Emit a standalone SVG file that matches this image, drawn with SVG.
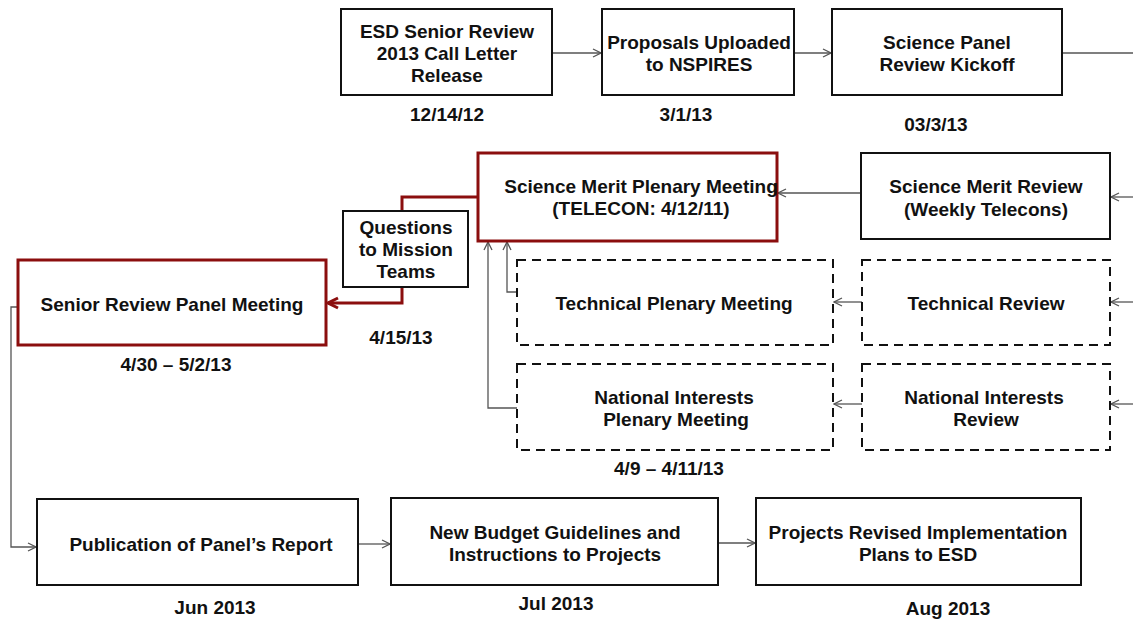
<svg xmlns="http://www.w3.org/2000/svg" width="1133" height="620" viewBox="0 0 1133 620">
  <style>
    text { font-family: "Liberation Sans", Arial, sans-serif; font-weight: bold; font-size: 19px; fill: #111; text-anchor: middle; }
    .box { fill: #fff; stroke: #111; stroke-width: 2; }
    .red { fill: #fff; stroke: #8b0e0e; stroke-width: 3; }
    .dash { fill: #fff; stroke: #111; stroke-width: 2; stroke-dasharray: 9 6; }
    .conn { fill: none; stroke: #555; stroke-width: 1.3; }
    .rconn { fill: none; stroke: #8b0e0e; stroke-width: 3; }
  </style>
  <defs>
    <marker id="arr" viewBox="0 0 10 10" refX="9" refY="5" markerWidth="10" markerHeight="10" markerUnits="userSpaceOnUse" orient="auto">
      <path d="M1,1 L9,5 L1,9" fill="none" stroke="#555" stroke-width="1.3"/>
    </marker>
    <marker id="rarr" viewBox="0 0 14 14" refX="12" refY="7" markerWidth="14" markerHeight="14" markerUnits="userSpaceOnUse" orient="auto">
      <path d="M2,2 L12,7 L2,12" fill="none" stroke="#8b0e0e" stroke-width="3"/>
    </marker>
  </defs>

  <!-- connectors -->
  <g id="connectors">
    <line class="conn" x1="552" y1="53" x2="601" y2="53" marker-end="url(#arr)"/>
    <line class="conn" x1="794" y1="53" x2="831" y2="53" marker-end="url(#arr)"/>
    <line class="conn" x1="1062" y1="53" x2="1133" y2="53"/>
    <line class="conn" x1="1133" y1="197" x2="1111" y2="197" marker-end="url(#arr)"/>
    <line class="conn" x1="861" y1="193" x2="778" y2="193" marker-end="url(#arr)"/>
    <line class="conn" x1="1133" y1="302" x2="1111" y2="302" marker-end="url(#arr)"/>
    <line class="conn" x1="862" y1="302" x2="834" y2="302" marker-end="url(#arr)"/>
    <line class="conn" x1="1133" y1="404" x2="1111" y2="404" marker-end="url(#arr)"/>
    <line class="conn" x1="862" y1="404" x2="834" y2="404" marker-end="url(#arr)"/>
    <polyline class="conn" points="517,292 507,292 507,242" marker-end="url(#arr)"/>
    <polyline class="conn" points="517,408 488,408 488,242" marker-end="url(#arr)"/>
    <polyline class="rconn" points="478,197 402,197 402,211"/>
    <polyline class="rconn" points="402,287 402,303 328,303" marker-end="url(#rarr)"/>
    <polyline class="conn" points="18,307 11,307 11,547 36,547" marker-end="url(#arr)"/>
    <line class="conn" x1="358" y1="544" x2="390" y2="544" marker-end="url(#arr)"/>
    <line class="conn" x1="718" y1="543" x2="755" y2="543" marker-end="url(#arr)"/>
  </g>

  <!-- top row -->
  <g id="call-letter">
    <rect class="box" x="341" y="9" width="211" height="86"/>
    <text x="447" y="38">ESD Senior Review</text>
    <text x="447" y="60">2013 Call Letter</text>
    <text x="447" y="82">Release</text>
    <text x="447" y="121">12/14/12</text>
  </g>
  <g id="proposals">
    <rect class="box" x="602" y="9" width="192" height="86"/>
    <text x="699" y="49">Proposals Uploaded</text>
    <text x="699" y="71">to NSPIRES</text>
    <text x="686" y="121">3/1/13</text>
  </g>
  <g id="kickoff">
    <rect class="box" x="832" y="9" width="230" height="86"/>
    <text x="947" y="49">Science Panel</text>
    <text x="947" y="71">Review Kickoff</text>
    <text x="936" y="131">03/3/13</text>
  </g>

  <!-- middle rows -->
  <g id="merit-plenary">
    <rect class="red" x="478" y="153" width="299" height="88"/>
    <text x="641" y="193">Science Merit Plenary Meeting</text>
    <text x="641" y="215">(TELECON: 4/12/11)</text>
  </g>
  <g id="merit-review">
    <rect class="box" x="861" y="153" width="249" height="86"/>
    <text x="986" y="193">Science Merit Review</text>
    <text x="986" y="216">(Weekly Telecons)</text>
  </g>
  <g id="questions">
    <rect class="box" x="343" y="211" width="125" height="76"/>
    <text x="406" y="234">Questions</text>
    <text x="406" y="256">to Mission</text>
    <text x="406" y="278">Teams</text>
    <text x="401" y="344">4/15/13</text>
  </g>
  <g id="senior-panel">
    <rect class="red" x="18" y="260" width="308" height="85"/>
    <text x="172" y="311">Senior Review Panel Meeting</text>
    <text x="176" y="371">4/30 – 5/2/13</text>
  </g>
  <g id="tech-plenary">
    <rect class="dash" x="517" y="260" width="316" height="85"/>
    <text x="674" y="310">Technical Plenary Meeting</text>
  </g>
  <g id="tech-review">
    <rect class="dash" x="862" y="260" width="248" height="85"/>
    <text x="986" y="310">Technical Review</text>
  </g>
  <g id="ni-plenary">
    <rect class="dash" x="517" y="364" width="316" height="86"/>
    <text x="674" y="404">National Interests</text>
    <text x="676" y="426">Plenary Meeting</text>
    <text x="669" y="475">4/9 – 4/11/13</text>
  </g>
  <g id="ni-review">
    <rect class="dash" x="862" y="364" width="248" height="86"/>
    <text x="984" y="404">National Interests</text>
    <text x="986" y="426">Review</text>
  </g>

  <!-- bottom row -->
  <g id="publication">
    <rect class="box" x="37" y="499" width="321" height="86"/>
    <text x="201" y="551">Publication of Panel’s Report</text>
    <text x="215" y="614">Jun 2013</text>
  </g>
  <g id="budget">
    <rect class="box" x="391" y="498" width="327" height="87"/>
    <text x="555" y="539">New Budget Guidelines and</text>
    <text x="555" y="561">Instructions to Projects</text>
    <text x="556" y="610">Jul 2013</text>
  </g>
  <g id="revised-plans">
    <rect class="box" x="756" y="498" width="325" height="87"/>
    <text x="918" y="539">Projects Revised Implementation</text>
    <text x="918" y="561">Plans to ESD</text>
    <text x="948" y="615">Aug 2013</text>
  </g>
</svg>
